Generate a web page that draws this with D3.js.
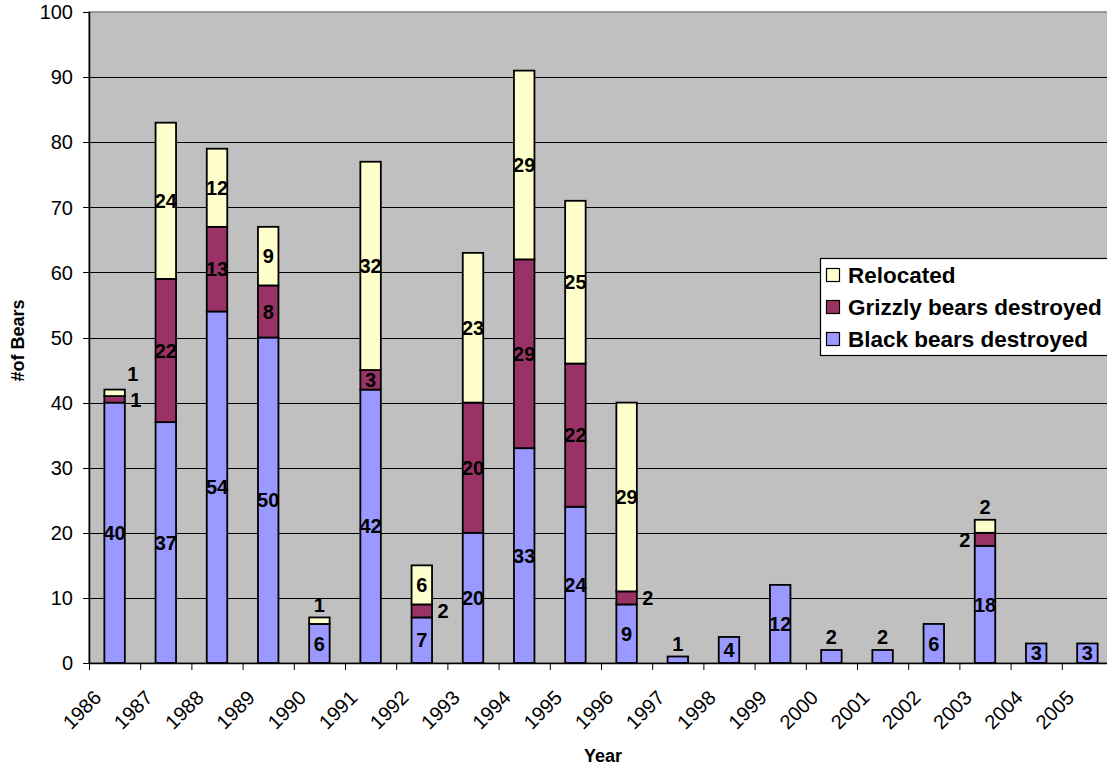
<!DOCTYPE html>
<html>
<head>
<meta charset="utf-8">
<script src="https://cdn.jsdelivr.net/npm/d3@7"></script>
<style>
  html, body { margin: 0; padding: 0; background: #ffffff; }
  svg { display: block; font-family: "Liberation Sans", Arial, sans-serif; }
</style>
</head>
<body>
<svg id="chart" width="1107" height="766"></svg>
<script>
// Bears handled per year
const years = ["1986","1987","1988","1989","1990","1991","1992","1993","1994","1995",
               "1996","1997","1998","1999","2000","2001","2002","2003","2004","2005"];
const blackDestroyed   = [40,37,54,50,6,42,7,20,33,24,9,1,4,12,2,2,6,18,3,3];
const grizzlyDestroyed = [1,22,13,8,0,3,2,20,29,22,2,0,0,0,0,0,0,2,0,0];
const relocated        = [1,24,12,9,1,32,6,23,29,25,29,0,0,0,0,0,0,2,0,0];
const yTicks = [0,10,20,30,40,50,60,70,80,90,100];

const seriesNames = ["Black bears destroyed", "Grizzly bears destroyed", "Relocated"];
const seriesValues = [blackDestroyed, grizzlyDestroyed, relocated];
const colors = ["#9999FF", "#993366", "#FFFFCC"];

// Small labels that sit outside their segment: "above", "right", "left", "aboveRight"
const labelSide = {
  "1986|2": "aboveRight", "1986|1": "right",
  "1990|2": "above",
  "1992|1": "right",
  "1996|1": "right",
  "1997|0": "above",
  "2000|0": "above", "2001|0": "above",
  "2003|1": "left", "2003|2": "above"
};

const svg = d3.select("#chart");
const plotLeft = 89, plotTop = 12, plotBottom = 663;
const step = 51.2;
const plotRight = plotLeft + step * years.length;

const x = d3.scaleBand().domain(years).range([plotLeft, plotRight]).padding(0);
const y = d3.scaleLinear().domain([0, 100]).range([plotBottom, plotTop]);
const barW = x.bandwidth() * 0.4;

// plot area
svg.append("rect")
  .attr("x", plotLeft).attr("y", plotTop)
  .attr("width", plotRight - plotLeft).attr("height", plotBottom - plotTop)
  .attr("fill", "#C0C0C0").attr("stroke", "#808080").attr("stroke-width", 1.5);

// gridlines
svg.append("g").selectAll("line")
  .data(yTicks.filter(t => t > 0 && t < 100))
  .join("line")
  .attr("x1", plotLeft).attr("x2", plotRight)
  .attr("y1", d => Math.round(y(d)) + 0.5).attr("y2", d => Math.round(y(d)) + 0.5)
  .attr("stroke", "#000").attr("stroke-width", 1);

// stacked bars
const rows = years.map((yr, i) => {
  const o = { year: yr };
  seriesValues.forEach((s, k) => { o["s" + k] = s[i]; });
  return o;
});
const stack = d3.stack().keys(["s0", "s1", "s2"])(rows);

stack.forEach((layer, k) => {
  svg.append("g").selectAll("rect")
    .data(layer.filter(d => d[1] - d[0] > 0))
    .join("rect")
    .attr("x", d => x(d.data.year) + (x.bandwidth() - barW) / 2)
    .attr("y", d => y(d[1]))
    .attr("width", barW)
    .attr("height", d => y(d[0]) - y(d[1]))
    .attr("fill", colors[k])
    .attr("stroke", "#000")
    .attr("stroke-width", 1.8);
});

// value labels
const labels = svg.append("g")
  .attr("font-weight", "bold").attr("font-size", 20).attr("fill", "#000");
stack.forEach((layer, k) => {
  layer.forEach(d => {
    const v = d[1] - d[0];
    if (v <= 0) return;
    const cx = x(d.data.year) + x.bandwidth() / 2;
    let lx = cx, ly = (y(d[0]) + y(d[1])) / 2;
    const side = labelSide[d.data.year + "|" + k];
    if (side === "above") ly = y(d[1]) - 13;
    else if (side === "right") lx = cx + barW / 2 + 11;
    else if (side === "left") lx = cx - barW / 2 - 10;
    else if (side === "aboveRight") { lx = cx + barW / 2 + 8; ly = y(d[1]) - 16; }
    labels.append("text")
      .attr("x", lx).attr("y", ly)
      .attr("text-anchor", "middle").attr("dy", "0.36em")
      .text(v);
  });
});

// y axis
svg.append("line")
  .attr("x1", plotLeft + 0.5).attr("x2", plotLeft + 0.5)
  .attr("y1", plotTop).attr("y2", plotBottom)
  .attr("stroke", "#000").attr("stroke-width", 1.5);
const yAxis = svg.append("g");
yAxis.selectAll("line").data(yTicks).join("line")
  .attr("x1", plotLeft - 6).attr("x2", plotLeft)
  .attr("y1", d => Math.round(y(d)) + 0.5).attr("y2", d => Math.round(y(d)) + 0.5)
  .attr("stroke", "#000");
yAxis.selectAll("text").data(yTicks).join("text")
  .attr("x", plotLeft - 16).attr("y", d => y(d))
  .attr("dy", "0.36em").attr("text-anchor", "end")
  .attr("font-size", 20).attr("fill", "#000")
  .text(d => d);

// x axis
svg.append("line")
  .attr("x1", plotLeft).attr("x2", plotRight)
  .attr("y1", plotBottom + 0.5).attr("y2", plotBottom + 0.5)
  .attr("stroke", "#000").attr("stroke-width", 1.5);
const xAxis = svg.append("g");
xAxis.selectAll("line").data(years).join("line")
  .attr("x1", d => x(d) + 0.5).attr("x2", d => x(d) + 0.5)
  .attr("y1", plotBottom).attr("y2", plotBottom + 7)
  .attr("stroke", "#000");
xAxis.selectAll("text").data(years).join("text")
  .attr("transform", d => `translate(${x(d) + x.bandwidth() / 2 - 12},${plotBottom + 36}) rotate(-45)`)
  .attr("text-anchor", "end")
  .attr("font-size", 20).attr("fill", "#000")
  .text(d => d);

// axis titles
svg.append("text")
  .attr("transform", `translate(24,${(plotTop + plotBottom) / 2 + 3}) rotate(-90)`)
  .attr("text-anchor", "middle")
  .attr("font-size", 18).attr("font-weight", "bold")
  .text("#of Bears");
svg.append("text")
  .attr("x", 603).attr("y", 762)
  .attr("text-anchor", "middle")
  .attr("font-size", 18).attr("font-weight", "bold")
  .text("Year");

// legend
const legend = svg.append("g");
legend.append("rect")
  .attr("x", 820.5).attr("y", 258.5).attr("width", 300).attr("height", 97)
  .attr("fill", "#fff").attr("stroke", "#000").attr("stroke-width", 1.2);
const legendOrder = [2, 1, 0];
legendOrder.forEach((k, i) => {
  const cy = 275 + i * 32;
  legend.append("rect")
    .attr("x", 826.5).attr("y", cy - 6.5).attr("width", 13).attr("height", 13)
    .attr("fill", colors[k]).attr("stroke", "#000").attr("stroke-width", 1.2);
  legend.append("text")
    .attr("x", 848).attr("y", cy).attr("dy", "0.36em")
    .attr("font-size", 22.5).attr("font-weight", "bold")
    .text(seriesNames[k]);
});
</script>
</body>
</html>
